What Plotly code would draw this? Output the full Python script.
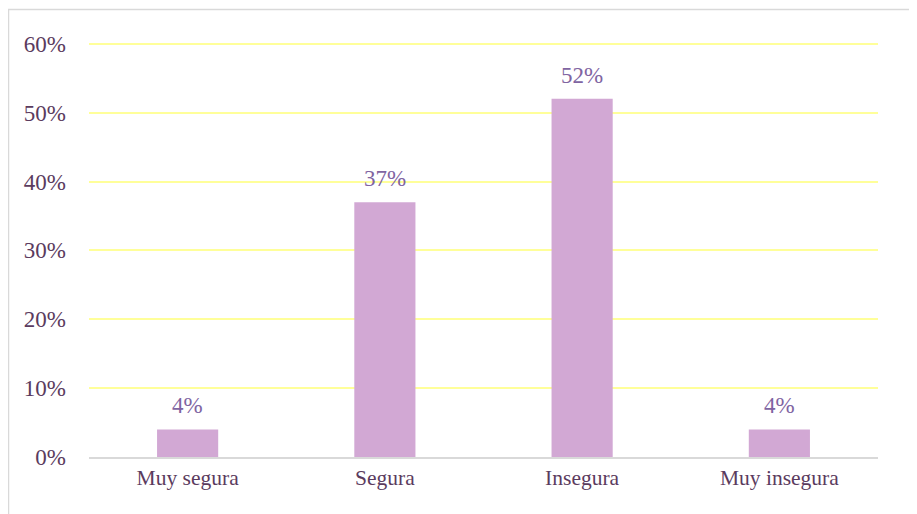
import plotly.graph_objects as go

categories = ["Muy segura", "Segura", "Insegura", "Muy insegura"]
values = [0.04, 0.37, 0.52, 0.04]
labels = ["4%", "37%", "52%", "4%"]
tick_vals = [0, 0.1, 0.2, 0.3, 0.4, 0.5, 0.6]
tick_text = ["0%", "10%", "20%", "30%", "40%", "50%", "60%"]

FONT = "Liberation Serif, Times New Roman, serif"

fig = go.Figure()
fig.add_trace(go.Bar(
    x=categories, y=values,
    marker=dict(color="#d2a8d4", line=dict(width=0)),
    hoverinfo="skip",
))

for c, v, t in zip(categories, values, labels):
    fig.add_annotation(x=c, y=v, text=t, showarrow=False, yanchor="bottom",
                       yshift=9, font=dict(family=FONT, size=23, color="#8064a2"))

YMAX = 0.604
W, H = 909, 506
PW = 789
PH = round(413 * YMAX / 0.6)
L = 81
T = 36 - (PH - 413)
fig.update_layout(
    width=W, height=H,
    margin=dict(l=L, r=W - L - PW, t=T, b=H - T - PH),
    paper_bgcolor="white", plot_bgcolor="white",
    bargap=0.69,
    showlegend=False,
    font=dict(family=FONT, size=22, color="#5b3b5e"),
    xaxis=dict(showline=True, linecolor="#d9d9d9", linewidth=2,
               ticks="", showgrid=False,
               tickfont=dict(family=FONT, size=21.5, color="#5b3b5e")),
    yaxis=dict(range=[0, YMAX], tickvals=tick_vals, ticktext=tick_text,
               showgrid=True, gridcolor="#ffff99", gridwidth=2,
               zeroline=False, showline=False, ticks="",
               ticklabelstandoff=22,
               tickfont=dict(family=FONT, size=23, color="#5b3b5e")),
    shapes=[dict(type="rect", xref="paper", yref="paper",
                 x0=-(L - 0.5) / PW, x1=1.2, y0=-0.3, y1=1 + (T - 1.5) / PH,
                 line=dict(color="#d9d9d9", width=1.5), fillcolor="rgba(0,0,0,0)",
                 layer="below")],
)

fig.write_html("out.html")
